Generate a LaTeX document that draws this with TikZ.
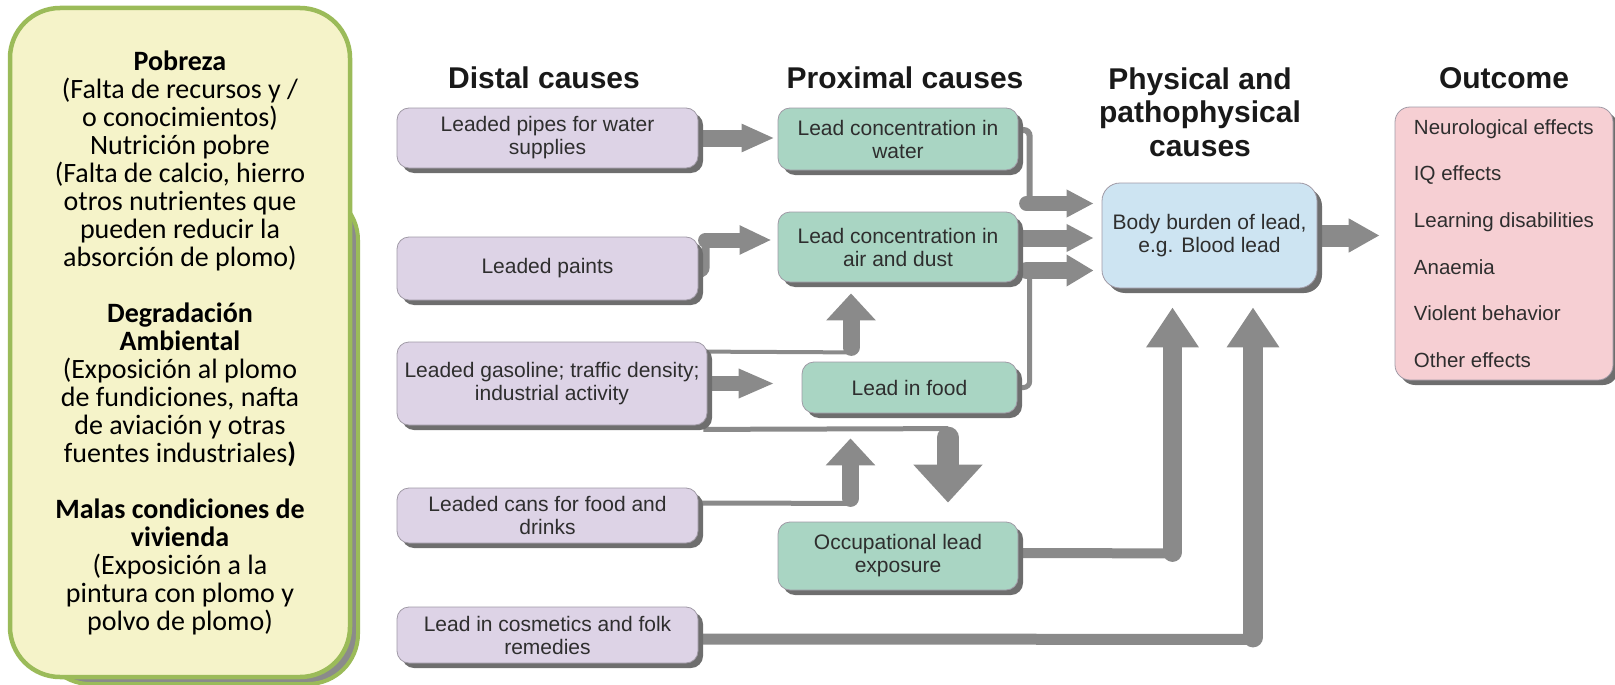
\documentclass[tikz,border=0pt]{standalone}
\usepackage{fontspec}
\setmainfont{Liberation Sans}
\newfontfamily\panelfont{Carlito}
\usetikzlibrary{arrows.meta,calc,shadows,backgrounds}

\definecolor{paneltint}{HTML}{F5F3C9}
\definecolor{panelrim}{HTML}{9BBB59}
\definecolor{distalfill}{HTML}{DDD3E6}
\definecolor{proxfill}{HTML}{A9D5C3}
\definecolor{bodyfill}{HTML}{CDE4F2}
\definecolor{outfill}{HTML}{F6CFD3}
\definecolor{boxrim}{HTML}{A09AA6}
\definecolor{shade}{HTML}{6E6E6E}
\definecolor{flowgray}{HTML}{8A8A8A}
\definecolor{inktext}{HTML}{2E2E2E}

\newcommand{\boxfont}{\fontsize{21}{23}\selectfont}
\newcommand{\headfont}{\fontsize{30}{33.5}\selectfont\bfseries}

\begin{document}
\begin{tikzpicture}[x=1pt, y=-1pt,
  box/.style={rounded corners=12pt, draw=boxrim, line width=0.8pt, text=inktext,
    font=\boxfont, align=center, inner sep=0pt,
    drop shadow={shadow xshift=5pt, shadow yshift=-5pt, fill=shade, opacity=1}},
  distal/.style={box, fill=distalfill},
  proximal/.style={box, fill=proxfill},
  heading/.style={font=\headfont, text=black!90, align=center},
  feed/.style={draw=flowgray, line width=5pt, rounded corners=6pt},
  flow/.style n args={3}{draw=flowgray, line width=#1, line cap=round,
    -{Triangle[width=#2,length=#3]}}]

  \useasboundingbox (0,0) rectangle (1615,685);

  % left panel
  \node[draw=panelrim, line width=4pt, fill=shade!80, rounded corners=50pt,
    minimum width=318pt, minimum height=494pt] (panelback) at (199,437) {};
  \node[draw=panelrim, line width=4.5pt, fill=paneltint, rounded corners=50pt,
    minimum width=340pt, minimum height=669pt, align=center,
    font={\panelfont\fontsize{28}{28}\selectfont}] (panel) at (180,342.5)
    {\textbf{Pobreza}\\(Falta de recursos y /\\o conocimientos)\\Nutrición pobre\\
     (Falta de calcio, hierro\\otros nutrientes que\\pueden reducir la\\absorción de plomo)\\[28pt]
     \textbf{Degradación}\\\textbf{Ambiental}\\(Exposición al plomo\\de fundiciones, nafta\\
     de aviación y otras\\fuentes industriales\textbf{)}\\[28pt]
     \textbf{Malas condiciones de}\\\textbf{vivienda}\\(Exposición a la\\pintura con plomo y\\polvo de plomo)};

  % column titles
  \node[heading] (distalhd) at (544,78) {Distal causes};
  \node[heading] (proxhd) at (905,78) {Proximal causes};
  \node[heading] (physhd) at (1200,112) {Physical and\\pathophysical\\causes};
  \node[heading] (outhd) at (1504,78) {Outcome};

  % distal causes
  \node[distal, minimum width=301pt, minimum height=60pt] (pipes) at (547.5,138) {Leaded pipes for water\\supplies};
  \node[distal, minimum width=301pt, minimum height=63pt] (paints) at (547.5,268.5) {Leaded paints};
  \node[distal, minimum width=310pt, minimum height=83pt] (gas) at (552,383.5) {Leaded gasoline; traffic density;\\industrial activity};
  \node[distal, minimum width=301pt, minimum height=55pt] (cans) at (547.5,515.5) {Leaded cans for food and\\drinks};
  \node[distal, minimum width=301pt, minimum height=56pt] (cosm) at (547.5,635) {Lead in cosmetics and folk\\remedies};

  % proximal causes
  \node[proximal, minimum width=240pt, minimum height=62pt] (water) at (898,139) {Lead concentration in\\water};
  \node[proximal, minimum width=240pt, minimum height=70pt] (airdust) at (898,247) {Lead concentration in\\air and dust};
  \node[proximal, minimum width=215pt, minimum height=51pt] (food) at (909.5,387.5) {Lead in food};
  \node[proximal, minimum width=240pt, minimum height=68pt] (occup) at (898,556) {Occupational lead\\exposure};

  % body burden and outcome
  \node[box, fill=bodyfill, rounded corners=18pt, minimum width=215pt, minimum height=105pt] (body) at (1209.5,235.5) {Body burden of lead,\\e.g. Blood lead};
  \node[box, fill=outfill, rounded corners=15pt, minimum width=218pt, minimum height=273pt,
    align=left, font=\fontsize{20.5}{46.7}\selectfont] (outcome) at (1504,243.5)
    {Neurological effects\\IQ effects\\Learning disabilities\\Anaemia\\Violent behavior\\Other effects};

  \begin{scope}[on background layer]
    % distal -> proximal
    \draw[flow={17pt}{26pt}{33pt}, shorten >=3pt] (pipes.east) -- (pipes.east -| water.west);

    \coordinate (pbend) at ($(airdust.west)+(-72,-7)$);
    \draw[feed, line width=8pt] ($(paints.east)+(-2,5)$) -| (pbend);
    \draw[flow={15pt}{27pt}{32pt}, shorten >=6pt] (pbend) -- (pbend -| airdust.west);

    \coordinate (gasup) at ($(airdust.south)+(-47,70)$);
    \draw[feed, line width=4pt] ($(gas.north east)+(-4,10)$) -- (gasup);
    \draw[flow={17pt}{48pt}{27pt}] ($(gasup)+(0,-5)$) -- ($(airdust.south)+(-47,11)$);

    \draw[flow={15pt}{27pt}{36pt}, shorten >=27pt] (gas.east) -- (gas.east -| food.west);

    \coordinate (gasdown) at ($(occup.north)+(50,-93)$);
    \draw[feed, line width=5pt] ($(gas.south east)+(-4,4)$) -- (gasdown);
    \draw[flow={22pt}{67pt}{38pt}] ($(gasdown)+(0,9)$) -- ($(occup.north)+(50,-19)$);

    \coordinate (canup) at ($(food.south)+(-59,90)$);
    \draw[feed, line width=5pt] ($(cans.east)+(-2,-12.5)$) -- (canup);
    \draw[flow={17pt}{48pt}{27pt}] ($(canup)+(0,-5)$) -- ($(food.south)+(-59,25)$);

    % proximal -> body burden
    \coordinate (wbend) at ($(body.west)+(-72,-32)$);
    \draw[feed, line width=6pt] ($(water.east)+(-2,-9)$) -| (wbend);
    \draw[flow={15pt}{26pt}{27pt}, shorten >=8pt] ($(wbend)+(-3,0)$) -- (wbend -| body.west);

    \coordinate (adout) at ($(airdust.east)+(0,-9)$);
    \draw[flow={17pt}{26pt}{27pt}, shorten >=8pt] (adout) -- (adout -| body.west);

    \coordinate (fbend) at ($(body.west)+(-72,35)$);
    \draw[feed, line width=5pt] (food.east) -| (fbend);
    \draw[flow={17pt}{30pt}{27pt}, shorten >=8pt] ($(fbend)+(-3,0)$) -- (fbend -| body.west);

    \coordinate (obend) at ($(body.south)+(-37,265)$);
    \draw[feed, line width=10pt] ($(occup.east)+(-2,-3)$) -- (obend);
    \draw[flow={19pt}{50pt}{40pt}] ($(obend)+(0,-1)$) -- ($(body.south)+(-37,19)$);

    \coordinate (cbend) at ($(body.south)+(43.5,351)$);
    \draw[feed, line width=11pt] ($(cosm.east)+(-2,4)$) -- (cbend);
    \draw[flow={20pt}{50pt}{40pt}] ($(cbend)+(0,-2)$) -- ($(body.south)+(43.5,19)$);

    % body burden -> outcome
    \draw[flow={22pt}{32pt}{31pt}, shorten >=15pt] (body.east) -- (body.east -| outcome.west);
  \end{scope}

\end{tikzpicture}
\end{document}
